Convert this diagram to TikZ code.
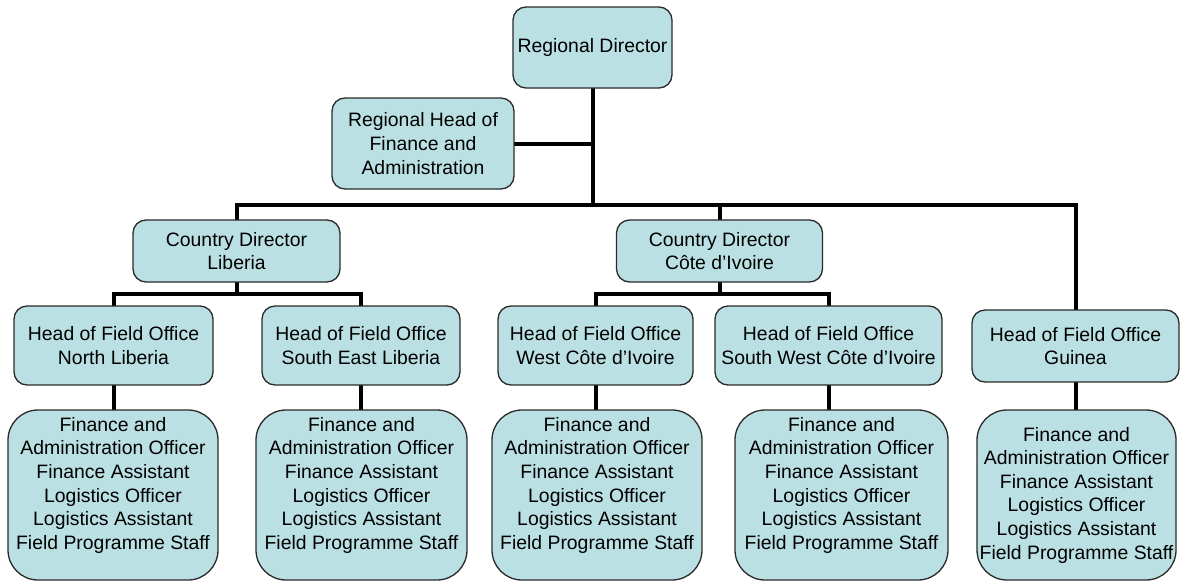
\documentclass[tikz,border=0pt]{standalone}
\usepackage{fontspec}
\setmainfont{Liberation Sans}
\usetikzlibrary{calc,backgrounds}
\definecolor{boxfill}{HTML}{BBE0E3}
\definecolor{boxline}{HTML}{2A2A2A}
\begin{document}
\begin{tikzpicture}[x=1pt,y=-1pt,
  box/.style={draw=boxline,line width=1.3pt,fill=boxfill,rounded corners=13pt,
    align=center,inner sep=0pt,
    font=\fontsize{19.4}{23.6}\selectfont},
  staffbox/.style={box,rounded corners=30pt,minimum height=170pt},
  conn/.style={line width=4pt,black,line cap=rect}]
\useasboundingbox (0,0) rectangle (1180,581);

% top level
\node[box,minimum width=159pt,minimum height=81pt] (rd) at (592.5,47.5) {Regional Director};
\node[box,minimum width=182pt,minimum height=91pt] (rh) at (423,143.5)
  {Regional Head of\\Finance and\\Administration};

% country directors
\node[box,minimum width=207pt,minimum height=62pt] (cdl) at (236.5,251) {Country Director\\Liberia};
\node[box,minimum width=206pt,minimum height=62pt] (cdc) at (719.5,251) {Country Director\\Côte d’Ivoire};

% heads of field office
\node[box,minimum width=199pt,minimum height=79pt] (hnl) at (113.5,345.5) {Head of Field Office\\North Liberia};
\node[box,minimum width=198pt,minimum height=79pt] (hsel) at (361,345.5) {Head of Field Office\\South East Liberia};
\node[box,minimum width=195pt,minimum height=79pt] (hwci) at (595.5,345.5) {Head of Field Office\\West Côte d’Ivoire};
\node[box,minimum width=227pt,minimum height=79pt] (hswci) at (828.5,345.5) {Head of Field Office\\South West Côte d’Ivoire};
\node[box,minimum width=207pt,minimum height=72pt] (hg) at (1075.5,346) {Head of Field Office\\Guinea};

% field office staff
\newcommand{\stafflist}{Finance and\\Administration Officer\\Finance Assistant\\Logistics Officer\\Logistics Assistant\\Field Programme Staff}
\node[staffbox,minimum width=210pt] (bnl) at (113,495) {\stafflist\\\mbox{}};
\node[staffbox,minimum width=211pt] (bsel) at (361.5,495) {\stafflist\\\mbox{}};
\node[staffbox,minimum width=210pt] (bwci) at (597,495) {\stafflist\\\mbox{}};
\node[staffbox,minimum width=213pt] (bswci) at (841.5,495) {\stafflist\\\mbox{}};
\node[staffbox,minimum width=199pt] (bg) at (1076.5,495) {\stafflist};

% reporting lines, drawn behind the boxes
\coordinate (hub) at (592.5,205);
\begin{scope}[on background layer]
\fill[white] (0,0) rectangle (1180,581);
\draw[conn] (rd.south) -- (hub);
\draw[conn] (rh.east) -- (rh.east -| hub);
\draw[conn] (hub) -| (cdl.north);
\draw[conn] (hub) -| (cdc.north);
\draw[conn] (hub) -| (hg.north);
\draw[conn] (cdl.south) |- ($(hnl.north)+(0,-11)$) -- (hnl.north);
\draw[conn] (cdl.south) |- ($(hsel.north)+(0,-11)$) -- (hsel.north);
\draw[conn] (cdc.south) |- ($(hwci.north)+(0,-11)$) -- (hwci.north);
\draw[conn] (cdc.south) |- ($(hswci.north)+(0,-11)$) -- (hswci.north);
\draw[conn] (hnl.south) -- (hnl.south |- bnl.north);
\draw[conn] (hsel.south) -- (hsel.south |- bsel.north);
\draw[conn] (hwci.south) -- (hwci.south |- bwci.north);
\draw[conn] (hswci.south) -- (hswci.south |- bswci.north);
\draw[conn] (hg.south) -- (hg.south |- bg.north);
\end{scope}
\end{tikzpicture}
\end{document}
